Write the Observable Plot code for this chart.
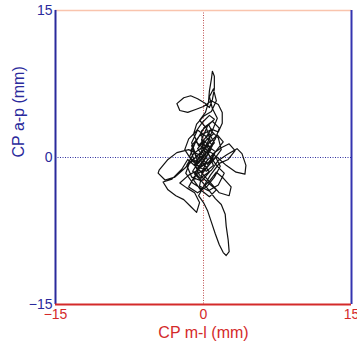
<!DOCTYPE html>
<html><head><meta charset="utf-8">
<script src="https://cdn.jsdelivr.net/npm/d3@7"></script>
<script src="https://cdn.jsdelivr.net/npm/@observablehq/plot@0.6"></script>
<style>body{margin:0;background:#fff}</style>
</head><body><div id="chart"></div>
<script>
// Centre-of-pressure trace (mm): medio-lateral and antero-posterior
const cpML = [
  0.0, 0.5, -0.2, 0.6, 1.1, 0.3, -0.9, -1.3, -0.6, 0.1,
  0.9, 1.6, 1.2, 0.5, -0.4, -1.1, -0.3, 0.8, 1.5, 2.4,
  3.4, 3.9, 4.3, 4.2, 3.3, 2.3, 1.3, 0.4, -0.5, -1.5,
  -2.7, -3.6, -4.5, -4.6, -3.9, -2.9, -1.9, -1.0, -0.2, 0.7,
  0.3, -0.4, 0.2, 0.5, 0.6, 0.8, 0.9, 1.1, 1.1, 0.9,
  0.6, 0.2, -0.6, -1.3, -2.0, -2.7, -2.4, -1.6, -0.8, 0.0,
  0.8, 1.5, 1.9, 1.9, 1.5, 0.8, 0.2, -0.5, -1.0, -0.7,
  0.0, 0.8, 1.3, 1.0, 0.6, 0.9, 1.4, 1.0, 0.4, -0.3,
  -0.8, -0.1, 0.7, 1.2, 0.4, -0.6, -1.4, -1.8, -1.1, -0.2,
  0.6, 1.3, 2.0, 2.8, 2.6, 1.6, 0.9, 0.1, -0.7, -1.6,
  -2.2, -3.2, -4.1, -3.6, -2.8, -2.0, -1.3, -0.7, -0.4, -0.9,
  -1.7, -2.4, -1.5, -0.6, 0.3, 1.0, 1.8, 2.6, 3.2, 2.5,
  1.6, 0.7, 0.1, -0.5, 0.0, 0.4, 0.8, 1.2, 1.6, 2.0,
  2.3, 2.6, 2.5, 2.3, 2.2, 1.8, 1.2, 0.6, -0.2, -0.9,
  -0.4, 0.3, 0.9, 0.2, -0.6, -1.2, -0.8, 0.0, 0.6, -0.2,
  -1.2, -1.7, -1.0, -0.2, 0.6, 1.4, 2.1, 1.5, 0.5, -0.4,
  -0.1, 0.4, -0.3, 0.3, 1.0, 0.5, -0.2, -0.1, 0.2, -0.5,
  -1.2, -0.4, 0.7, 1.5, 1.8, 1.0, 0.2, -0.9, -1.5, -0.6,
  0.4, 1.1, 1.7, 1.1, 0.1, -0.8, -1.4, -0.7, 0.3, 1.0,
  0.5, -0.2, 0.4, 1.1, 0.6, -0.1, -0.8, -1.5, -1.9, -1.2,
  -0.3, 0.6, 1.3, 2.0, 1.4, 0.5, -0.3, -0.9, -0.4, 0.5,
  1.3, 0.6, -0.3, -1.0, -0.5, 0.2, 0.8, 0.1, -0.6, 0.0
];
const cpAP = [
  0.0, 0.9, 1.6, 2.4, 1.5, 0.5, -0.4, 0.7, 1.9, 3.1,
  3.7, 3.0, 1.9, 0.8, -0.3, -1.4, -2.1, -1.3, -0.3, 0.3,
  0.9, 0.4, -0.8, -1.7, -1.5, -0.8, 0.1, -0.7, 0.3, 0.8,
  0.5, -0.2, -1.3, -1.6, -2.3, -2.0, -1.1, -0.2, 0.6, 1.7,
  3.0, 3.8, 4.6, 5.6, 6.8, 8.0, 8.8, 8.3, 7.0, 5.9,
  5.1, 5.5, 6.0, 6.3, 6.1, 5.5, 4.8, 4.6, 4.9, 5.2,
  5.8, 5.4, 4.6, 3.5, 2.6, 2.9, 2.0, 1.2, 2.4, 3.4,
  4.2, 4.7, 5.8, 7.0, 6.2, 5.0, 4.0, 3.0, 1.5, 0.4,
  -0.9, -1.6, -0.6, 0.6, 1.2, 0.2, -0.5, -1.6, -2.6, -3.2,
  -2.4, -1.5, -2.1, -3.0, -3.9, -3.6, -2.8, -1.9, -1.0, -0.2,
  -1.2, -2.2, -2.5, -3.3, -3.9, -4.3, -5.0, -5.6, -4.6, -3.6,
  -3.1, -2.6, -1.8, -1.3, -0.4, 0.4, 1.0, 1.4, 0.7, -0.2,
  -0.6, -1.8, -2.8, -3.9, -4.6, -5.4, -6.6, -7.8, -8.9, -9.7,
  -10.0, -9.6, -8.4, -7.0, -5.8, -4.8, -4.2, -3.4, -2.4, -1.7,
  -0.8, 0.2, 1.2, 2.2, 2.8, 1.5, 0.3, -0.6, -1.5, -2.4,
  -2.0, -0.8, 0.4, 1.0, 0.2, -0.9, -1.6, -2.8, -3.4, -2.9,
  -1.4, -0.2, 0.9, 1.8, 2.4, 3.4, 2.7, 1.3, 0.3, -0.6,
  1.2, 2.2, 2.8, 2.0, 0.8, -0.3, -1.1, -1.9, -3.0, -3.6,
  -2.9, -2.0, -0.9, 0.3, 0.9, 1.6, 0.1, -0.8, -1.4, -0.8,
  0.4, 1.8, 3.2, 3.9, 4.3, 3.6, 2.6, 1.9, 0.8, -0.3,
  -1.0, -0.4, 0.7, 1.6, 2.3, 1.4, 0.3, -0.7, -1.8, -2.6,
  -3.3, -4.0, -3.3, -2.3, -1.2, -0.1, 0.9, 1.7, 0.9, 0.1
];
const xTicks = [-15, 0, 15];
const yTicks = [-15, 0, 15];
const xDomain = [-15, 15];
const yDomain = [-15, 15];
const xLabel = "CP m-l (mm)";
const yLabel = "CP a-p (mm)";

const path = cpML.map((x, i) => ({x, y: cpAP[i]}));
const red = "#d42a2a", blue = "#2a2a9c";

const chart = Plot.plot({
  width: 357, height: 345,
  marginLeft: 55, marginRight: 6, marginTop: 10, marginBottom: 41,
  x: {domain: xDomain},
  y: {domain: yDomain},
  style: {fontFamily: "'Liberation Sans', Arial, sans-serif", background: "#fff"},
  marks: [
    Plot.ruleX([0], {stroke: "#c05050", strokeDasharray: "1,1.5", strokeWidth: 1}),
    Plot.ruleY([0], {stroke: "#3030a0", strokeDasharray: "1,1.5", strokeWidth: 1}),
    Plot.line(path, {x: "x", y: "y", stroke: "#111", strokeWidth: 1.2, curve: "linear"}),
    Plot.ruleY([15], {stroke: "#f9c4ad", strokeWidth: 1.5}),
    Plot.ruleX([15], {stroke: "#3434b0", strokeWidth: 2}),
    Plot.ruleX([-15], {stroke: blue, strokeWidth: 2}),
    Plot.ruleY([-15], {stroke: red, strokeWidth: 2}),
    Plot.axisX({ticks: xTicks, tickSize: 0, tickPadding: 5, color: red, fill: red, fontSize: 14, label: null}),
    Plot.axisY({ticks: yTicks, tickSize: 0, tickPadding: 3, color: blue, fill: blue, fontSize: 14, label: null}),
    Plot.text([xLabel], {text: d => d, frameAnchor: "bottom", lineAnchor: "middle", dy: 28, fill: red, fontSize: 16}),
    Plot.text([yLabel], {text: d => d, frameAnchor: "left", lineAnchor: "middle", dx: -37, rotate: -90, fill: blue, fontSize: 16})
  ]
});
document.getElementById("chart").append(chart);
</script>
</body></html>
